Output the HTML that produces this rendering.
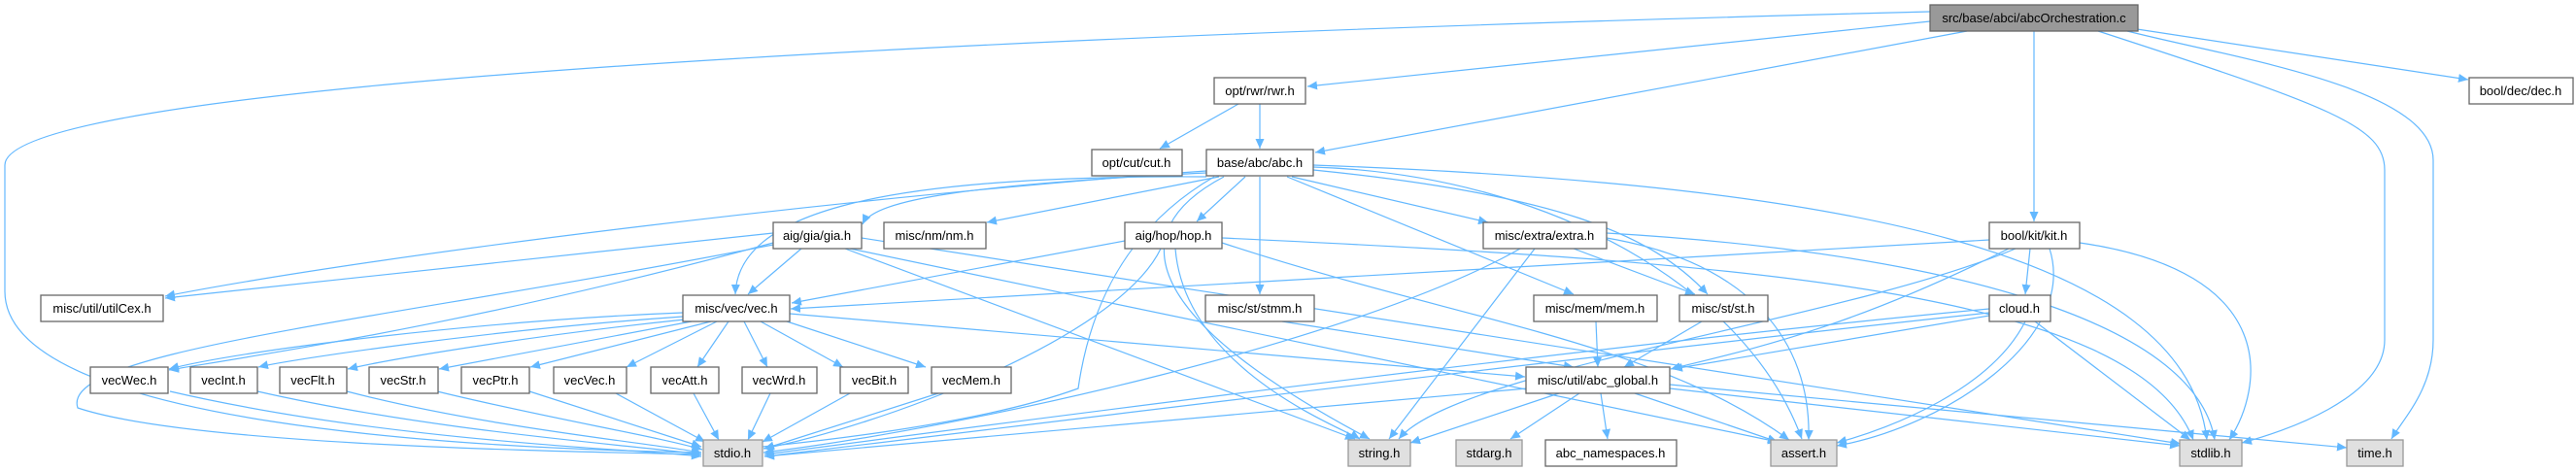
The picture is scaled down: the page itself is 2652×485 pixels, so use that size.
<!DOCTYPE html>
<html><head><meta charset="utf-8"><style>
body{margin:0;background:#fff;width:2652px;height:485px;overflow:hidden}
svg{display:block}
text{font-family:"Liberation Sans",Arial,sans-serif;font-size:13px;fill:#000}
.e{fill:none;stroke:#63b8ff;stroke-width:1.2}
.n{fill:#fff;stroke:#666;stroke-width:1.3}
.g{fill:#e0e0e0;stroke:#999;stroke-width:1.3}
.t{fill:#999;stroke:#666;stroke-width:1.3}
</style></head><body>
<svg width="2652" height="485" viewBox="0 0 2652 485" xmlns="http://www.w3.org/2000/svg">
<defs><marker id="a" markerUnits="userSpaceOnUse" markerWidth="11" markerHeight="9" refX="10" refY="4.5" orient="auto"><path d="M0,0 L10,4.5 L0,9 z" fill="#63b8ff"/></marker></defs>
<g class="e" marker-end="url(#a)">
<!-- top -->
<path d="M1987,12 C900,40 5,90 5,170 L5,300 C5,440 500,462 722,466"/>
<path d="M1987,22 L1346,89"/>
<path d="M2025,32 L1354,157"/>
<path d="M2094,32 L2094,228"/>
<path d="M2160,32 C2400,110 2455,130 2455,175 L2455,350 C2455,410 2350,445 2308,456"/>
<path d="M2190,32 C2300,60 2505,90 2505,165 L2505,350 C2505,400 2475,430 2462,452"/>
<path d="M2200,30 L2541,82"/>
<!-- rwr -->
<path d="M1275,107 L1194,153"/>
<path d="M1297,107 L1297,153"/>
<!-- abc -->
<path d="M1242,176 C900,200 400,260 170,305"/>
<path d="M1242,178 C1000,190 900,205 888,231"/>
<path d="M1255,182 L1016,229"/>
<path d="M1242,182 C900,180 760,220 757,303"/>
<path d="M1282,182 L1232,228"/>
<path d="M1297,182 L1297,303"/>
<path d="M1330,182 L1532,229"/>
<path d="M1325,182 L1620,303"/>
<path d="M1352,175 C1600,200 1700,240 1758,303"/>
<path d="M1260,182 C1150,240 1180,330 1410,452"/>
<path d="M1250,182 C1150,240 1120,330 1110,400 C1000,440 800,460 724,465"/>
<path d="M1352,172 C1600,180 1800,300 1855,452"/>
<path d="M1352,170 C1900,190 2250,260 2272,453"/>
<!-- gia -->
<path d="M796,240 L170,307"/>
<path d="M825,256 L770,303"/>
<path d="M796,252 C400,330 60,360 80,420 C200,460 600,465 722,468"/>
<path d="M796,250 C500,330 300,360 174,381"/>
<path d="M870,256 L1395,452"/>
<path d="M887,245 L2245,457"/>
<path d="M875,256 L1830,455"/>
<!-- hop -->
<path d="M1158,248 L815,312"/>
<path d="M1195,256 C1150,350 900,440 786,462"/>
<path d="M1210,256 C1220,380 1380,440 1400,452"/>
<path d="M1258,245 C1800,270 2200,300 2258,453"/>
<path d="M1258,250 C1500,330 1700,350 1842,453"/>
<!-- extra -->
<path d="M1565,256 C1400,350 1000,440 786,466"/>
<path d="M1580,256 L1430,452"/>
<path d="M1620,256 L1745,303"/>
<path d="M1654,245 C1800,270 1865,350 1862,453"/>
<path d="M1654,240 C2000,260 2260,330 2280,453"/>
<!-- kit -->
<path d="M2048,247 L814,318"/>
<path d="M2090,256 L2085,303"/>
<path d="M2075,256 C1900,330 1500,380 1440,452"/>
<path d="M2068,256 C1900,340 1800,360 1720,380"/>
<path d="M2110,256 C2140,350 2000,440 1891,459"/>
<path d="M2141,250 C2350,280 2330,400 2295,453"/>
<!-- vec -->
<path d="M703,322 C500,330 250,360 174,380"/>
<path d="M703,326 C500,340 300,370 266,378"/>
<path d="M705,329 C550,345 400,370 358,380"/>
<path d="M712,331 L452,380"/>
<path d="M732,331 L546,378"/>
<path d="M738,331 L645,378"/>
<path d="M750,331 L718,378"/>
<path d="M766,331 L790,378"/>
<path d="M783,331 L868,378"/>
<path d="M810,331 L953,378"/>
<path d="M813,323 L1570,388"/>
<!-- vec children to stdio -->
<path d="M175,403 C400,455 650,462 722,470"/>
<path d="M265,403 C450,445 650,458 722,468"/>
<path d="M357,403 C500,440 660,455 722,466"/>
<path d="M450,403 C560,430 680,450 723,463"/>
<path d="M545,403 L722,460"/>
<path d="M634,405 L726,455"/>
<path d="M714,405 L740,453"/>
<path d="M793,405 L770,453"/>
<path d="M875,405 L785,455"/>
<path d="M966,405 L787,462"/>
<!-- level4 -->
<path d="M1320,331 L1620,378"/>
<path d="M1643,331 L1645,378"/>
<path d="M1752,331 L1672,378"/>
<path d="M2048,318 C1600,360 1000,440 787,468"/>
<path d="M2048,322 C1600,370 1000,445 787,470"/>
<path d="M2048,325 L1722,380"/>
<path d="M2085,331 C2050,400 1950,440 1891,456"/>
<path d="M2095,331 L2255,453"/>
<!-- abc_global -->
<path d="M1572,400 L787,470"/>
<path d="M1605,405 L1452,456"/>
<path d="M1626,405 L1555,452"/>
<path d="M1648,405 L1655,452"/>
<path d="M1683,405 L1830,455"/>
<path d="M1719,400 L2244,459"/>
<path d="M1719,396 L2416,461"/>
</g>
<!-- nodes -->
<rect class="t" x="1987" y="5" width="214" height="27"/><text x="2094" y="23" text-anchor="middle">src/base/abci/abcOrchestration.c</text>
<rect class="n" x="1250" y="80" width="94" height="27"/><text x="1297" y="98" text-anchor="middle">opt/rwr/rwr.h</text>
<rect class="n" x="2542" y="80" width="107" height="27"/><text x="2595" y="98" text-anchor="middle">bool/dec/dec.h</text>
<rect class="n" x="1124" y="154" width="93" height="27"/><text x="1170" y="172" text-anchor="middle">opt/cut/cut.h</text>
<rect class="n" x="1242" y="154" width="110" height="27"/><text x="1297" y="172" text-anchor="middle">base/abc/abc.h</text>
<rect class="n" x="796" y="229" width="91" height="27"/><text x="841" y="247" text-anchor="middle">aig/gia/gia.h</text>
<rect class="n" x="910" y="229" width="105" height="27"/><text x="962" y="247" text-anchor="middle">misc/nm/nm.h</text>
<rect class="n" x="1158" y="229" width="100" height="27"/><text x="1208" y="247" text-anchor="middle">aig/hop/hop.h</text>
<rect class="n" x="1527" y="229" width="127" height="27"/><text x="1590" y="247" text-anchor="middle">misc/extra/extra.h</text>
<rect class="n" x="2048" y="229" width="93" height="27"/><text x="2094" y="247" text-anchor="middle">bool/kit/kit.h</text>
<rect class="n" x="42" y="304" width="126" height="27"/><text x="105" y="322" text-anchor="middle">misc/util/utilCex.h</text>
<rect class="n" x="703" y="304" width="110" height="27"/><text x="758" y="322" text-anchor="middle">misc/vec/vec.h</text>
<rect class="n" x="1241" y="304" width="112" height="27"/><text x="1297" y="322" text-anchor="middle">misc/st/stmm.h</text>
<rect class="n" x="1579" y="304" width="127" height="27"/><text x="1642" y="322" text-anchor="middle">misc/mem/mem.h</text>
<rect class="n" x="1729" y="304" width="91" height="27"/><text x="1774" y="322" text-anchor="middle">misc/st/st.h</text>
<rect class="n" x="2048" y="304" width="63" height="27"/><text x="2079" y="322" text-anchor="middle">cloud.h</text>
<rect class="n" x="93" y="378" width="80" height="27"/><text x="133" y="396" text-anchor="middle">vecWec.h</text>
<rect class="n" x="196" y="378" width="69" height="27"/><text x="230" y="396" text-anchor="middle">vecInt.h</text>
<rect class="n" x="288" y="378" width="69" height="27"/><text x="322" y="396" text-anchor="middle">vecFlt.h</text>
<rect class="n" x="380" y="378" width="71" height="27"/><text x="415" y="396" text-anchor="middle">vecStr.h</text>
<rect class="n" x="475" y="378" width="70" height="27"/><text x="510" y="396" text-anchor="middle">vecPtr.h</text>
<rect class="n" x="570" y="378" width="75" height="27"/><text x="607" y="396" text-anchor="middle">vecVec.h</text>
<rect class="n" x="670" y="378" width="70" height="27"/><text x="705" y="396" text-anchor="middle">vecAtt.h</text>
<rect class="n" x="764" y="378" width="77" height="27"/><text x="802" y="396" text-anchor="middle">vecWrd.h</text>
<rect class="n" x="865" y="378" width="70" height="27"/><text x="900" y="396" text-anchor="middle">vecBit.h</text>
<rect class="n" x="959" y="378" width="82" height="27"/><text x="1000" y="396" text-anchor="middle">vecMem.h</text>
<rect class="n" x="1571" y="378" width="148" height="27"/><text x="1645" y="396" text-anchor="middle">misc/util/abc_global.h</text>
<rect class="g" x="724" y="453" width="61" height="27"/><text x="754" y="471" text-anchor="middle">stdio.h</text>
<rect class="g" x="1388" y="453" width="64" height="27"/><text x="1420" y="471" text-anchor="middle">string.h</text>
<rect class="g" x="1499" y="453" width="68" height="27"/><text x="1533" y="471" text-anchor="middle">stdarg.h</text>
<rect class="n" x="1591" y="453" width="135" height="27"/><text x="1658" y="471" text-anchor="middle">abc_namespaces.h</text>
<rect class="g" x="1823" y="453" width="68" height="27"/><text x="1857" y="471" text-anchor="middle">assert.h</text>
<rect class="g" x="2244" y="453" width="64" height="27"/><text x="2276" y="471" text-anchor="middle">stdlib.h</text>
<rect class="g" x="2416" y="453" width="58" height="27"/><text x="2445" y="471" text-anchor="middle">time.h</text>
</svg>
</body></html>
